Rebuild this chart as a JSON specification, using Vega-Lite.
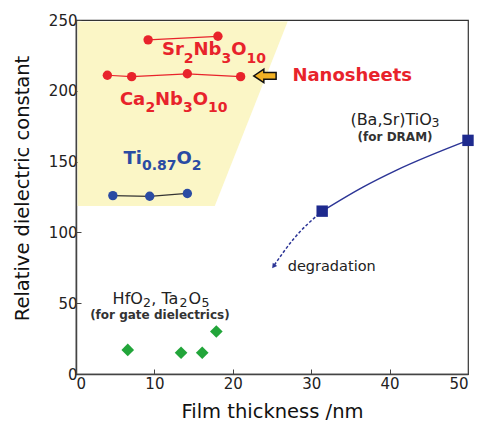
{
  "$schema": "https://vega.github.io/schema/vega-lite/v6.json",
  "autosize": {"type": "none"},
  "width": 392,
  "height": 354,
  "padding": {"left": 76, "top": 20, "right": 11, "bottom": 47},
  "background": "white",
  "config": {
    "view": {"stroke": "#333", "strokeWidth": 1.2},
    "font": "DejaVu Sans",
    "axis": {
      "grid": false,
      "domainColor": "#444",
      "domainWidth": 1.5,
      "tickColor": "#444",
      "tickSize": -5,
      "tickWidth": 1,
      "labelColor": "#222",
      "labelFont": "DejaVu Sans",
      "labelFontSize": 15,
      "titleFont": "DejaVu Sans",
      "titleFontSize": 19.5,
      "titleFontWeight": "normal",
      "titleColor": "#111"
    }
  },
  "resolve": {"scale": {"color": "independent"}},
  "datasets": {
    "region": [
      {"yb": 118.6, "xr": 17.7, "xl": 0.2},
      {"yb": 249, "xr": 27.0, "xl": 0.2}
    ],
    "nano": [
      {"series": "Sr2Nb3O10", "x": 9.2, "y": 236},
      {"series": "Sr2Nb3O10", "x": 18.1, "y": 238.5},
      {"series": "Ca2Nb3O10", "x": 4.0, "y": 211},
      {"series": "Ca2Nb3O10", "x": 7.1, "y": 210},
      {"series": "Ca2Nb3O10", "x": 14.2, "y": 212},
      {"series": "Ca2Nb3O10", "x": 21.0, "y": 210},
      {"series": "Ti0.87O2", "x": 4.7, "y": 126},
      {"series": "Ti0.87O2", "x": 9.4, "y": 125.5},
      {"series": "Ti0.87O2", "x": 14.2, "y": 127.5}
    ],
    "bstCurve": [
      {"x": 31.4, "y": 115},
      {"x": 36.6, "y": 132},
      {"x": 40.9, "y": 144},
      {"x": 50, "y": 165}
    ],
    "bstDash": [
      {"x": 31.4, "y": 115},
      {"x": 27.7, "y": 95},
      {"x": 25.3, "y": 77}
    ],
    "bstArrow": [{"x": 25.2, "y": 76}],
    "bst": [
      {"x": 31.4, "y": 115},
      {"x": 50, "y": 165}
    ],
    "gate": [
      {"x": 6.6, "y": 17},
      {"x": 13.4, "y": 15},
      {"x": 16.1, "y": 15},
      {"x": 17.9, "y": 30}
    ],
    "bigArrow": [{"x": 24.1, "y": 210.5}],
    "redMain": [
      {"t": "Sr", "x": 10.97, "y": 225.3},
      {"t": "Nb", "x": 14.99, "y": 225.3},
      {"t": "O", "x": 19.8, "y": 225.3},
      {"t": "Ca", "x": 5.6, "y": 190},
      {"t": "Nb", "x": 10.08, "y": 190},
      {"t": "O", "x": 14.89, "y": 190}
    ],
    "redSub": [
      {"t": "2", "x": 13.75, "y": 219.8},
      {"t": "3", "x": 18.56, "y": 219.8},
      {"t": "10", "x": 21.74, "y": 219.8},
      {"t": "2", "x": 8.85, "y": 185.2},
      {"t": "3", "x": 13.65, "y": 185.2},
      {"t": "10", "x": 16.84, "y": 185.2}
    ],
    "blueMain": [
      {"t": "Ti", "x": 6.06, "y": 148.3},
      {"t": "O", "x": 12.81, "y": 148.3}
    ],
    "blueSub": [
      {"t": "0.87", "x": 8.41, "y": 144.1},
      {"t": "2", "x": 14.76, "y": 144.1}
    ],
    "nanoLabel": [{"label": "Nanosheets", "x": 27.6, "y": 210.5}],
    "darkMain": [
      {"t": "(Ba,Sr)TiO", "x": 35.0, "y": 175.6},
      {"t": "HfO", "x": 4.67, "y": 49.4},
      {"t": ", Ta", "x": 9.6, "y": 49.4},
      {"t": "O", "x": 14.36, "y": 49.4}
    ],
    "darkSub": [
      {"t": "3", "x": 45.35, "y": 174.4},
      {"t": "2", "x": 8.53, "y": 47.5},
      {"t": "2", "x": 13.2, "y": 47.5},
      {"t": "5", "x": 16.0, "y": 47.5}
    ],
    "subLabels": [
      {"label": "(for DRAM)", "x": 40.7, "y": 167.4},
      {"label": "(for gate dielectrics)", "x": 10.7, "y": 41.7}
    ],
    "degLabel": [{"label": "degradation", "x": 27.0, "y": 75.5}]
  },
  "encoding": {
    "x": {
      "field": "x", "type": "quantitative",
      "scale": {"domain": [0, 50], "nice": false, "zero": false},
      "axis": {"title": "Film thickness /nm", "values": [0, 10, 20, 30, 40, 50], "labelPadding": 7, "titlePadding": 11}
    },
    "y": {
      "field": "y", "type": "quantitative",
      "scale": {"domain": [0, 250], "nice": false, "zero": false},
      "axis": {"title": "Relative dielectric constant", "values": [0, 50, 100, 150, 200, 250], "labelPadding": 4, "titlePadding": 16, "titleY": 168}
    }
  },
  "layer": [
    {
      "data": {"name": "region"},
      "mark": {"type": "area", "orient": "horizontal", "color": "#FBF6C6", "opacity": 1},
      "encoding": {
        "y": {"field": "yb", "type": "quantitative"},
        "x": {"field": "xr", "type": "quantitative"},
        "x2": {"field": "xl"}
      }
    },
    {
      "data": {"name": "nano"},
      "mark": {"type": "line", "strokeWidth": 1.2},
      "encoding": {
        "detail": {"field": "series"},
        "color": {
          "field": "series", "type": "nominal", "legend": null,
          "scale": {"domain": ["Sr2Nb3O10", "Ca2Nb3O10", "Ti0.87O2"], "range": ["#E8232B", "#E8232B", "#333333"]}
        }
      }
    },
    {
      "data": {"name": "nano"},
      "mark": {"type": "point", "shape": "circle", "filled": true, "opacity": 1, "size": 88},
      "encoding": {
        "stroke": {"value": null},
        "fill": {
          "field": "series", "type": "nominal", "legend": null,
          "scale": {"domain": ["Sr2Nb3O10", "Ca2Nb3O10", "Ti0.87O2"], "range": ["#E8232B", "#E8232B", "#2A4BA3"]}
        }
      }
    },
    {
      "data": {"name": "bstCurve"},
      "mark": {"type": "line", "interpolate": "monotone", "color": "#2C3596", "strokeWidth": 1.5},
      "encoding": {}
    },
    {
      "data": {"name": "bstDash"},
      "mark": {"type": "line", "interpolate": "monotone", "color": "#2C3596", "strokeWidth": 1.5, "strokeDash": [3, 2]},
      "encoding": {}
    },
    {
      "data": {"name": "bstArrow"},
      "mark": {"type": "point", "shape": "triangle-down", "filled": true, "opacity": 1, "color": "#2C3596", "size": 30, "angle": 36},
      "encoding": {}
    },
    {
      "data": {"name": "bst"},
      "mark": {"type": "point", "shape": "square", "filled": true, "opacity": 1, "color": "#1E2A8E", "size": 130},
      "encoding": {}
    },
    {
      "data": {"name": "gate"},
      "mark": {"type": "point", "shape": "diamond", "filled": true, "opacity": 1, "color": "#22A53A", "size": 160},
      "encoding": {}
    },
    {
      "data": {"name": "bigArrow"},
      "mark": {"type": "point", "shape": "M1,-0.3 L-0.1,-0.3 L-0.1,-0.6 L-1,0 L-0.1,0.6 L-0.1,0.3 L1,0.3 Z", "filled": true, "opacity": 1, "fill": "#F2B124", "stroke": "#111", "strokeWidth": 1.5, "size": 500},
      "encoding": {}
    },
    {
      "data": {"name": "redMain"},
      "mark": {"type": "text", "font": "DejaVu Sans", "fontWeight": "bold", "fontSize": 18, "color": "#E8232B", "align": "left", "baseline": "alphabetic"},
      "encoding": {"text": {"field": "t"}}
    },
    {
      "data": {"name": "redSub"},
      "mark": {"type": "text", "font": "DejaVu Sans", "fontWeight": "bold", "fontSize": 14, "color": "#E8232B", "align": "left", "baseline": "alphabetic"},
      "encoding": {"text": {"field": "t"}}
    },
    {
      "data": {"name": "blueMain"},
      "mark": {"type": "text", "font": "DejaVu Sans", "fontWeight": "bold", "fontSize": 18, "color": "#2A4BA3", "align": "left", "baseline": "alphabetic"},
      "encoding": {"text": {"field": "t"}}
    },
    {
      "data": {"name": "blueSub"},
      "mark": {"type": "text", "font": "DejaVu Sans", "fontWeight": "bold", "fontSize": 14, "color": "#2A4BA3", "align": "left", "baseline": "alphabetic"},
      "encoding": {"text": {"field": "t"}}
    },
    {
      "data": {"name": "nanoLabel"},
      "mark": {"type": "text", "font": "DejaVu Sans", "fontWeight": "bold", "fontSize": 18, "color": "#E8232B", "align": "left", "baseline": "middle"},
      "encoding": {"text": {"field": "label"}}
    },
    {
      "data": {"name": "darkMain"},
      "mark": {"type": "text", "font": "DejaVu Sans", "fontSize": 16, "color": "#222", "align": "left", "baseline": "alphabetic"},
      "encoding": {"text": {"field": "t"}}
    },
    {
      "data": {"name": "darkSub"},
      "mark": {"type": "text", "font": "DejaVu Sans", "fontSize": 12.5, "color": "#222", "align": "left", "baseline": "alphabetic"},
      "encoding": {"text": {"field": "t"}}
    },
    {
      "data": {"name": "subLabels"},
      "mark": {"type": "text", "font": "DejaVu Sans", "fontWeight": "bold", "fontSize": 12, "color": "#333", "align": "center", "baseline": "middle"},
      "encoding": {"text": {"field": "label"}}
    },
    {
      "data": {"name": "degLabel"},
      "mark": {"type": "text", "font": "DejaVu Sans", "fontSize": 14.5, "color": "#222", "align": "left", "baseline": "middle"},
      "encoding": {"text": {"field": "label"}}
    }
  ]
}
